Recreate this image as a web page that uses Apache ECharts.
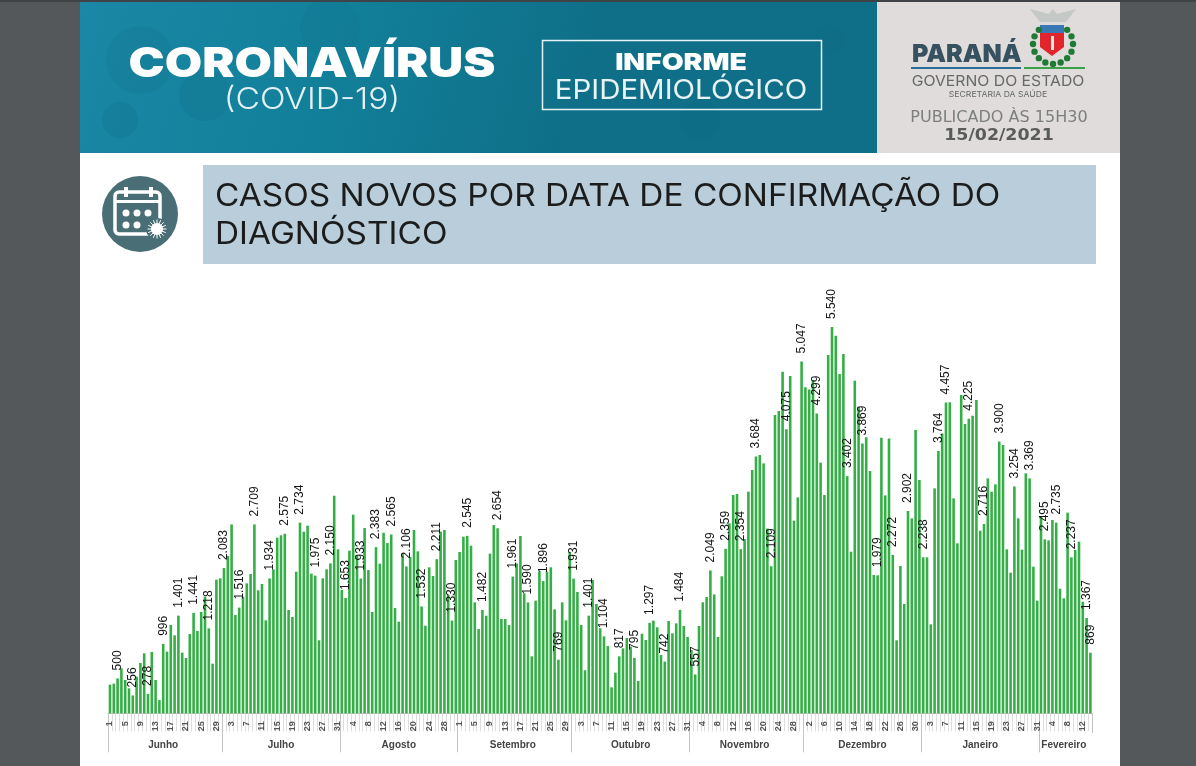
<!DOCTYPE html>
<html>
<head>
<meta charset="utf-8">
<script src="https://cdn.jsdelivr.net/npm/echarts@6/dist/echarts.min.js"></script>
<style>
html, body { margin: 0; padding: 0; background: #54585a; }
#chart1 { width: 1196px; height: 766px; }
</style>
</head>
<body>
<div id="chart1"></div>
<script>
// casos novos por dia, mes a mes
var junho = [411,425,500,645,478,358,256,525,722,860,278,880,478,190,996,884,1267,1118,1401,870,793,1138,1441,1180,1453,1673,1218,712,1917,1936];
var julho = [2083,2256,2709,1410,1516,1673,1864,1998,2709,1764,1855,1334,1934,2065,2519,2553,2575,1482,1381,2031,2734,2605,2691,2003,1975,1047,1936,2065,2150,3121,2352];
var agosto = [1769,1653,2333,2849,2270,1933,2657,2055,1453,2383,2146,2590,2442,2565,1510,1314,2294,2106,2240,2629,2323,1532,1257,2094,1969,2211,2605,2629,1700,1330,2199];
var setembro = [2313,2533,2545,2404,1592,1209,1482,1400,2290,2700,2654,1353,1353,1267,1961,2150,2543,1720,1590,817,1616,2036,1896,2030,2094,1491,769,1592,1334,2313];
var outubro = [1931,1740,1267,617,1401,1912,1568,1219,1104,966,373,583,817,932,1080,956,795,464,1142,1052,1297,1329,1233,836,742,1324,1147,1290,1484,1252,1095];
var novembro = [908,557,1252,1592,1668,2049,1706,1095,1965,2359,2725,3131,3145,2354,2500,3179,3490,3684,3705,3585,2650,2109,4278,4335,4900,4075,4837,2763,3097,5047];
var dezembro = [4675,4646,4780,4299,3595,3131,5139,5540,5416,4866,5153,3402,2318,4770,4398,3869,3958,3475,1984,1979,3953,3126,3943,2272,1047,2113,1568,2902,2796,4063,3346];
var janeiro = [2238,2237,1276,3226,3764,4015,4457,4460,3083,2438,4565,4149,4225,4269,4493,2619,2716,3370,3179,3284,3900,3848,2352,2017,3254,2796,2347,3442,3369,2103,1616];
var fevereiro = [2830,2495,2481,2772,2735,1788,1649,2878,2237,2342,2462,1600,1367,869];

var meses = ['Junho','Julho','Agosto','Setembro','Outubro','Novembro','Dezembro','Janeiro','Fevereiro'];
var valoresMes = [junho, julho, agosto, setembro, outubro, novembro, dezembro, janeiro, fevereiro];

// barras que levam rotulo no original
var diasRotulados = [2,6,10,14,18,22,26,30,34,38,42,46,50,54,58,62,66,70,74,78,82,86,90,94,98,102,106,110,114,118,122,126,130,134,138,142,146,150,154,158,162,166,170,174,178,182,186,190,194,198,202,206,210,214,218,220,226,230,234,238,242,246,249,253,257,258];

var categorias = [], valores = [], inicioMes = {}, meioMes = {};
valoresMes.forEach(function (lista, m) {
    inicioMes[categorias.length] = true;
    meioMes[categorias.length + Math.floor((lista.length - 1) / 2)] = meses[m];
    lista.forEach(function (v, d) {
        categorias.push(String(d + 1));
        valores.push(v);
    });
});

function milhar(v) {
    return v >= 1000 ? Math.floor(v / 1000) + '.' + String(v % 1000).padStart(3, '0') : String(v);
}

var dadosBarras = valores.map(function (v, i) {
    var rotulado = diasRotulados.indexOf(i) >= 0;
    return { value: v, label: { show: rotulado } };
});

var F = 'Inter, "Liberation Sans", sans-serif';
var D = '"DejaVu Sans", sans-serif';

function rect(x, y, w, h, fill, extra) {
    return Object.assign({ type: 'rect', silent: true, shape: { x: x, y: y, width: w, height: h }, style: { fill: fill } }, extra || {});
}
function txt(x, y, t, font, fill, align, sx) {
    return { type: 'text', silent: true, x: x, y: y, scaleX: sx || 1, style: { text: t, font: font, fill: fill, align: align || 'left', verticalAlign: 'middle' } };
}
function bola(x, y, r, fill, op) {
    return { type: 'circle', silent: true, shape: { cx: x, cy: y, r: r }, style: { fill: fill, opacity: op === undefined ? 1 : op } };
}

var enfeites = [
    rect(0, 0, 1196, 2, '#3f4345'),
    rect(80, 2, 1040, 764, '#ffffff'),
    rect(80, 2, 798, 151, new echarts.graphic.LinearGradient(0, 0, 0.6, 1, [
        { offset: 0, color: '#1a88a6' }, { offset: 0.5, color: '#12809a' }, { offset: 1, color: '#0f6f88' }
    ])),
    bola(140, 60, 34, '#0f5f74', 0.12), bola(205, 95, 26, '#0f5f74', 0.14), bola(330, 28, 30, '#0f5f74', 0.1),
    bola(120, 120, 18, '#0f5f74', 0.14), bola(700, 120, 20, '#0f5f74', 0.08), bola(830, 40, 14, '#0f5f74', 0.1),
    rect(877, 2, 243, 151, '#dfdcdb'),
    txt(312, 65, 'CORONAVÍRUS', '900 41px ' + F, '#ffffff', 'center', 1.18),
    txt(312, 100, '(COVID-19)', '300 30px ' + F, '#e4f1f4', 'center', 1.12),
    rect(542.5, 40.5, 279, 69, 'none', { style: { fill: 'none', stroke: '#e8f3f5', lineWidth: 1.5 } }),
    txt(681, 63, 'INFORME', '900 23px ' + F, '#ffffff', 'center', 1.23),
    txt(681, 91, 'EPIDEMIOLÓGICO', '400 27px ' + F, '#e8f3f5', 'center', 1.09),

    // brasao simplificado
    { type: 'polygon', silent: true, shape: { points: [[1030, 9], [1049, 14], [1053, 9], [1057, 14], [1076, 9], [1066, 22], [1040, 22]] }, style: { fill: '#c4c8c7' } },
    { type: 'polygon', silent: true, shape: { points: [[1040, 25], [1064, 25], [1064, 47], [1052, 56], [1040, 47]] }, style: { fill: '#e0262c' } },
    rect(1040, 25, 24, 8, '#3a78b5'),
    rect(1051, 36, 3, 14, '#f3e9e0'),
    txt(912, 54.5, 'PARANÁ', '900 25px ' + F, '#36515f'),
    rect(911, 67, 110, 2, '#2a6f9a'),
    rect(1024, 67, 61, 2, '#3aa34a'),
    txt(998, 81, 'GOVERNO DO ESTADO', '400 15px ' + F, '#666a6a', 'center', 1.05),
    txt(998, 95, 'SECRETARIA DA SAÚDE', '400 8px ' + F, '#666a6a', 'center', 1.08),
    txt(999, 118, 'PUBLICADO ÀS 15H30', '400 15px ' + D, '#7d7f7f', 'center', 1.07),
    txt(999, 136, '15/02/2021', '700 15px ' + D, '#5a5c5c', 'center', 1.16),

    // titulo
    rect(203, 165, 893, 99, '#b9ceda'),
    txt(215, 197, 'CASOS NOVOS POR DATA DE CONFIRMAÇÃO DO', '400 31px ' + F, '#1c1c1c', 'left', 1.077),
    txt(215, 235, 'DIAGNÓSTICO', '400 31px ' + F, '#1c1c1c', 'left', 1.077),

    // icone calendario
    bola(140, 214, 38, '#4a6e76'),
    { type: 'rect', silent: true, shape: { x: 115, y: 192, width: 45, height: 42, r: 4 }, style: { fill: 'none', stroke: '#ffffff', lineWidth: 3.5 } },
    rect(115, 200, 45, 3, '#ffffff'),
    rect(124, 187, 4, 10, '#ffffff'), rect(149, 187, 4, 10, '#ffffff'),
    bola(126, 213, 3.5, '#ffffff'), bola(137, 213, 3.5, '#ffffff'), bola(148, 213, 3.5, '#ffffff'),
    bola(126, 225, 3.5, '#ffffff'), bola(137, 225, 3.5, '#ffffff'),
    bola(157, 229, 11, '#4a6e76'), bola(157, 229, 6, '#ffffff'),

    // o eixo dos meses fecha com um traco na ponta direita, que o original nao tem
    rect(1090, 733, 6, 21, '#ffffff', { z: 100 })
];

// folhas do brasao e raios do sol do icone
for (var a = 0; a < 16; a++) {
    var ang = Math.PI * 2 * a / 16;
    var sen = Math.sin(ang), cos = Math.cos(ang);
    if (cos > -0.85) {
        enfeites.push(bola(1053 + 20 * sen, 44 + 20 * cos, 3.2, '#1f7a35'));
    }
    enfeites.push({ type: 'line', silent: true, shape: { x1: 157, y1: 229, x2: 157 + 9.5 * sen, y2: 229 + 9.5 * cos }, style: { stroke: '#ffffff', lineWidth: 1 } });
}

var myChart = echarts.init(document.getElementById('chart1'));

myChart.setOption({
    animation: false,
    backgroundColor: '#54585a',
    graphic: enfeites,
    grid: { left: 108.1, top: 295, width: 984.2, height: 418.3 },
    xAxis: [
        {
            type: 'category',
            data: categorias,
            axisLine: { show: true, lineStyle: { color: '#bdbdbd' } },
            axisTick: { show: true, interval: 0, length: 18, lineStyle: { color: '#dedede' } },
            axisLabel: { interval: 3, rotate: 90, margin: 8, fontSize: 9, fontWeight: 'bold', color: '#555555', fontFamily: 'Liberation Sans' }
        },
        {
            type: 'category',
            position: 'bottom',
            data: categorias.map(function (c, i) { return meioMes[i] || ''; }),
            axisLine: { show: false },
            axisTick: {
                show: true,
                length: 39,
                lineStyle: { color: '#c4c4c4' },
                interval: function (i) { return !!inicioMes[i]; }
            },
            axisLabel: {
                margin: 27,
                fontSize: 10,
                fontWeight: 'bold',
                color: '#444444',
                fontFamily: 'Liberation Sans',
                interval: function (i) { return !!meioMes[i]; }
            }
        }
    ],
    yAxis: { type: 'value', min: 0, max: 6000, show: false },
    series: [{
        type: 'bar',
        data: dadosBarras,
        barWidth: 2.6,
        itemStyle: { color: '#35ae47' },
        label: {
            position: 'top',
            rotate: 90,
            align: 'left',
            verticalAlign: 'middle',
            distance: 8,
            fontSize: 12,
            fontFamily: 'Liberation Sans',
            color: '#151515',
            formatter: function (p) { return milhar(p.value); }
        },
        labelLayout: { hideOverlap: false }
    }]
});
</script>
</body>
</html>
